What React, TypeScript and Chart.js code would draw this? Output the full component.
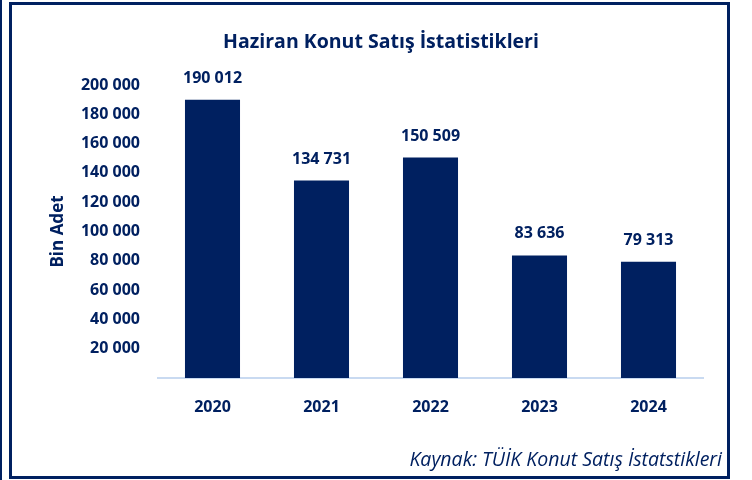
import React, { useEffect, useRef } from "react";
import { Chart, registerables } from "chart.js";

Chart.register(...registerables);

const categories = ["2020", "2021", "2022", "2023", "2024"];
const salesValues = [190012, 134731, 150509, 83636, 79313];
const yTickStep = 20000;
const yMax = 200000;
const titleText = "Haziran Konut Satış İstatistikleri";
const axisTitleText = "Bin Adet";
const sourceText = "Kaynak: TÜİK Konut Satış İstatstikleri";

const NAVY = "#002060";
const FONT = "'Open Sans', 'Noto Sans', sans-serif";

const fmt = (v: number) =>
  Math.round(v)
    .toString()
    .replace(/\B(?=(\d{3})+(?!\d))/g, " ");

const PAD_LEFT = 48;
const PAD_RIGHT = 49;
const PAD_TOP = 85;
const AREA_LEFT = 158;
const AREA_BOTTOM = 378;

const textPlugin = {
  id: "customText",
  afterDatasetsDraw(chart: any) {
    const ctx = chart.ctx;
    ctx.save();
    // data labels
    const meta = chart.getDatasetMeta(0);
    ctx.fillStyle = NAVY;
    ctx.font = `bold 16px ${FONT}`;
    ctx.textAlign = "center";
    ctx.textBaseline = "alphabetic";
    meta.data.forEach((bar: any, i: number) => {
      ctx.fillText(fmt(salesValues[i]), bar.x, bar.y - 17);
    });
    // title
    ctx.font = `bold 19.5px ${FONT}`;
    ctx.textBaseline = "middle";
    ctx.fillText(titleText, 381, 42);
    // source
    ctx.font = `italic 19.5px ${FONT}`;
    ctx.textAlign = "right";
    ctx.textBaseline = "alphabetic";
    ctx.fillText(sourceText, 722, 466);
    ctx.restore();
  },
};

export default function App() {
  const ref = useRef<HTMLCanvasElement | null>(null);
  useEffect(() => {
    if (!ref.current) return;
    const chart = new Chart(ref.current, {
      type: "bar",
      data: {
        labels: categories,
        datasets: [
          {
            data: salesValues,
            backgroundColor: NAVY,
            borderWidth: 0,
            barPercentage: 0.505,
            categoryPercentage: 1,
          },
        ],
      },
      options: {
        responsive: false,
        animation: false,
        devicePixelRatio: 1,
        layout: { padding: { left: PAD_LEFT, right: PAD_RIGHT, top: PAD_TOP, bottom: 0 } },
        plugins: {
          legend: { display: false },
          title: { display: false },
          tooltip: { enabled: false },
        },
        scales: {
          x: {
            grid: { display: false, drawTicks: false, tickLength: 0 },
            border: { display: true, color: "#c9daf1", width: 2 },
            ticks: {
              color: NAVY,
              font: { family: FONT, size: 16, weight: "bold" },
              padding: 20,
            },
            afterFit(scale: any) {
              scale.height = 480 - AREA_BOTTOM;
            },
          },
          y: {
            min: 0,
            max: yMax,
            grid: { display: false, drawTicks: false, tickLength: 0 },
            border: { display: false },
            ticks: {
              stepSize: yTickStep,
              color: NAVY,
              font: { family: FONT, size: 16, weight: "bold" },
              padding: 18,
              callback: (v: any) => (Number(v) === 0 ? "" : fmt(Number(v))),
            },
            title: {
              display: true,
              text: axisTitleText,
              color: NAVY,
              font: { family: FONT, size: 17, weight: "bold" },
              padding: 0,
            },
            afterFit(scale: any) {
              scale.width = AREA_LEFT - PAD_LEFT;
            },
          },
        },
      },
      plugins: [textPlugin],
    });
    return () => chart.destroy();
  }, []);

  return (
    <div style={{ position: "fixed", left: 0, top: 0, width: 752, height: 480, background: "#fff" }}>
      <canvas ref={ref} width={752} height={480} style={{ position: "absolute", left: 0, top: 0 }} />
      <div style={{ position: "absolute", left: 0, top: 0, width: 2, height: 480, background: NAVY }} />
      <div
        style={{
          position: "absolute",
          left: 9,
          top: 2,
          width: 721,
          height: 477,
          boxSizing: "border-box",
          border: `3px solid ${NAVY}`,
          pointerEvents: "none",
        }}
      />
    </div>
  );
}
